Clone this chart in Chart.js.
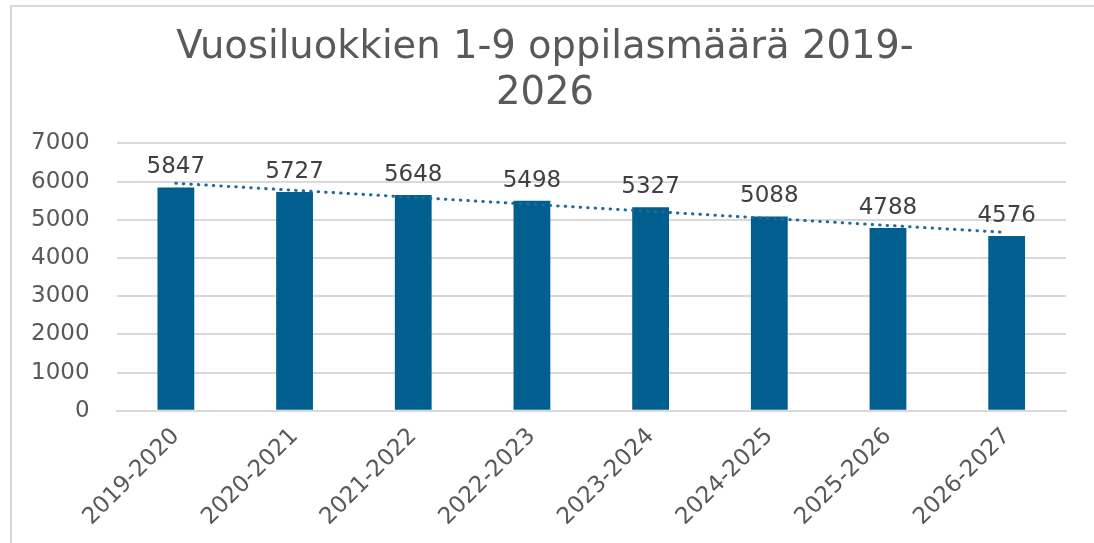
<!DOCTYPE html>
<html>
<head>
<meta charset="utf-8">
<script src="https://cdn.jsdelivr.net/npm/chart.js@4"></script>
<style>
  html, body { margin: 0; padding: 0; background: #fff; }
  #frame { position: absolute; left: 10px; top: 5px; width: 1100px; height: 560px;
           border-left: 2px solid #d9d9d9; border-top: 2px solid #d9d9d9; }
  #wrap { position: absolute; left: 0; top: 0; width: 1094px; height: 543px; }
</style>
</head>
<body>
<div id="frame"></div>
<div id="wrap"><canvas id="myChart"></canvas></div>
<script>
var years = ["2019-2020", "2020-2021", "2021-2022", "2022-2023", "2023-2024", "2024-2025", "2025-2026", "2026-2027"];
var pupils = [5847, 5727, 5648, 5498, 5327, 5088, 4788, 4576];
// trendline ends
var trendStart = 5956;
var trendEnd = 4669;
var yTicks = [0, 1000, 2000, 3000, 4000, 5000, 6000, 7000];

var trend = years.map(function (y, i) {
  if (i == 0) return trendStart;
  if (i == years.length - 1) return trendEnd;
  return null;
});

/* values above bars */
var barLabels = {
  id: 'barLabels',
  afterDatasetsDraw: function (chart) {
    var ctx = chart.ctx;
    var meta = chart.getDatasetMeta(1);
    ctx.save();
    ctx.font = '23px "DejaVu Sans"';
    ctx.fillStyle = '#404040';
    ctx.textAlign = 'center';
    ctx.textBaseline = 'alphabetic';
    meta.data.forEach(function (bar, i) {
      ctx.fillText(pupils[i], bar.x, bar.y - 14);
    });
    ctx.restore();
  }
};

var chart = new Chart(document.getElementById('myChart'), {
  data: {
    labels: years,
    datasets: [
      {
        type: 'line',
        label: 'Trendi',
        data: trend,
        spanGaps: true,
        borderColor: '#1f6a99',
        borderWidth: 3,
        borderDash: [0.5, 7],
        borderCapStyle: 'round',
        pointRadius: 0,
        fill: false,
        order: 0
      },
      {
        type: 'bar',
        label: 'Oppilasmäärä',
        data: pupils,
        backgroundColor: '#005f8f',
        categoryPercentage: 1,
        barPercentage: 0.31,
        order: 1
      }
    ]
  },
  options: {
    responsive: true,
    maintainAspectRatio: false,
    animation: false,
    layout: { padding: { left: 24, right: 28, top: 0, bottom: 0 } },
    plugins: {
      legend: { display: false },
      tooltip: { enabled: false },
      title: {
        display: true,
        text: ['Vuosiluokkien 1-9 oppilasmäärä 2019-', '2026'],
        color: '#595959',
        font: { family: '"DejaVu Sans"', size: 38.5, weight: 'normal' },
        lineHeight: 1.2,
        padding: { top: 25, bottom: 26 }
      }
    },
    scales: {
      x: {
        grid: { display: false, drawTicks: false },
        border: { color: '#d9d9d9', width: 2 },
        ticks: {
          color: '#595959',
          font: { family: '"DejaVu Sans"', size: 23 },
          minRotation: 45,
          maxRotation: 45,
          padding: 12
        },
        afterFit: function (axis) {
          // rotated labels may hang out to the left, like in the original
          axis.paddingLeft = 0;
          axis.paddingRight = 0;
        }
      },
      y: {
        min: 0,
        max: 7000,
        afterBuildTicks: function (axis) {
          axis.ticks = yTicks.map(function (v) { return { value: v }; });
        },
        afterFit: function (axis) {
          axis.width = axis.width - 20;
        },
        grid: { color: '#d9d9d9', lineWidth: 2, drawTicks: false },
        border: { display: false },
        ticks: {
          color: '#595959',
          font: { family: '"DejaVu Sans"', size: 23 },
          padding: 27,
          callback: function (v) { return String(v); }
        }
      }
    }
  },
  plugins: [barLabels]
});
</script>
</body>
</html>
